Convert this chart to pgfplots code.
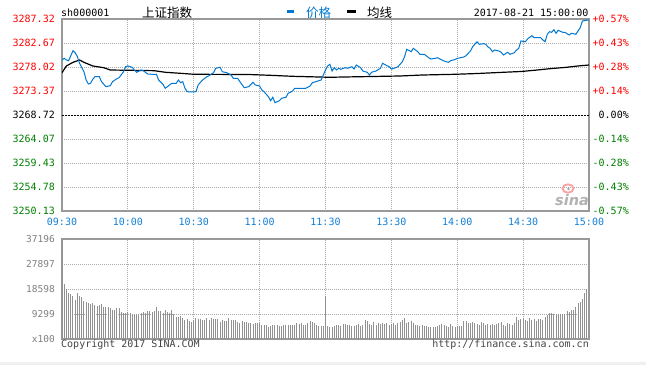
\documentclass[border=0pt]{standalone}
\usepackage{fontspec}
\usepackage{pgfplots}
\pgfplotsset{compat=1.18}
\usepackage{pgfplotstable}
\newfontfamily\mono{DejaVu Sans Mono}
\newfontfamily\cjk{Noto Sans CJK SC}
\newfontfamily\sinafont{DejaVu Sans}
\definecolor{pblue}{RGB}{0,120,210}
\definecolor{tblue}{RGB}{20,128,215}
\definecolor{sred}{RGB}{255,0,0}
\definecolor{sgreen}{RGB}{0,128,0}
\definecolor{gridgray}{RGB}{170,170,170}
\definecolor{bordergray}{RGB}{153,153,153}
\definecolor{volgray}{RGB}{145,145,145}
\definecolor{vlabgray}{RGB}{128,128,128}
\definecolor{stripgray}{RGB}{240,240,240}
\definecolor{copygray}{RGB}{68,68,68}
\definecolor{eyered}{RGB}{250,160,160}

\pgfplotstableread{
x y
0 3279.38
1 3279.71
2 3279.38
3 3279.24
5 3281.18
6 3280.79
7 3280.02
8 3278.74
10 3277.11
11 3275.50
12 3274.73
13 3274.87
14 3275.64
15 3276.14
17 3276.14
18 3275.18
20 3274.21
22 3274.40
23 3275.18
25 3275.76
26 3275.95
28 3277.11
29 3278.08
30 3278.22
32 3277.96
33 3277.44
34 3277.00
36 3277.44
37 3277.31
39 3276.67
41 3276.61
43 3276.61
44 3275.50
46 3274.67
47 3273.90
48 3274.21
50 3274.87
52 3274.87
53 3275.50
54 3274.98
55 3275.18
56 3273.90
57 3273.24
59 3273.18
61 3273.24
62 3274.54
64 3275.50
66 3276.14
67 3276.34
69 3276.92
70 3277.77
72 3277.96
73 3277.11
75 3276.92
77 3276.47
78 3275.83
80 3275.83
81 3275.18
83 3274.01
85 3274.21
87 3275.06
88 3274.54
90 3274.34
91 3273.57
92 3273.24
94 3272.27
95 3271.49
96 3272.15
97 3271.11
99 3271.49
100 3271.96
102 3272.15
103 3272.93
105 3273.37
106 3273.90
111 3273.90
113 3274.34
114 3274.98
117 3275.37
118 3275.50
119 3276.47
120 3277.44
121 3278.22
122 3278.55
123 3277.25
124 3277.89
125 3277.44
126 3277.77
127 3277.58
129 3277.89
130 3277.77
132 3278.08
133 3277.63
134 3278.41
136 3277.89
137 3277.25
139 3277.00
140 3276.47
141 3277.00
143 3277.25
145 3277.77
146 3278.74
148 3278.27
149 3278.08
150 3277.63
152 3277.89
153 3278.08
155 3279.05
156 3280.02
157 3281.45
159 3280.99
160 3281.64
162 3280.99
163 3280.48
165 3280.48
167 3279.82
168 3279.57
170 3279.71
171 3279.82
173 3279.38
174 3279.18
176 3278.93
177 3279.24
179 3279.48
180 3279.69
183 3279.96
184 3280.21
186 3281.12
187 3281.95
189 3282.92
190 3282.42
192 3282.54
193 3282.42
194 3281.90
195 3281.64
196 3280.99
197 3281.32
199 3281.12
200 3280.87
201 3280.35
203 3280.87
204 3280.48
206 3280.79
207 3281.32
208 3281.64
209 3283.06
211 3282.92
212 3283.45
214 3284.09
215 3283.70
218 3283.70
219 3283.25
220 3282.92
221 3284.36
222 3284.86
223 3284.74
224 3285.25
225 3284.55
226 3285.13
228 3284.74
229 3284.74
231 3284.22
232 3284.55
234 3284.36
235 3285.00
236 3285.63
237 3286.93
239 3287.10
240 3287.10
}\pricetab

\pgfplotstableread{
x y
0 3276.92
2 3278.22
5 3278.93
8 3279.38
10 3278.93
14 3278.22
19 3277.89
22 3277.44
42 3277.31
47 3277.00
54 3276.80
60 3276.61
85 3276.57
95 3276.41
105 3276.22
122 3276.03
129 3276.09
154 3276.28
164 3276.47
179 3276.61
189 3276.76
199 3276.96
209 3277.15
215 3277.38
223 3277.73
229 3277.93
235 3278.22
240 3278.41
}\avgtab

\pgfplotstableread{
v
37196
20460
18490
17230
16740
16000
14500
17230
16000
15500
14250
13880
13500
13020
13500
12650
12280
12650
13020
12030
11780
12030
11410
10790
10900
11410
11410
10160
9790
9540
10160
9540
8930
8930
9290
8930
9540
10160
9790
10530
10530
10160
10530
12030
10530
10530
9790
10790
10160
9790
10790
9290
8300
8300
8550
7690
7070
7320
6820
6440
6820
7940
7320
7320
7070
7070
7690
7070
7690
7320
7320
7320
6440
7070
6820
6820
7690
7070
7070
7070
6440
6070
6820
6440
6440
6070
5830
5580
6070
6070
6070
5210
5210
5210
4580
4830
5210
5210
5210
4830
4830
5210
5210
5210
5210
5210
5210
6070
5580
6070
5210
5210
5830
6820
6440
5830
5210
4830
4830
4840
16000
4840
4340
4580
4840
5210
5210
4840
5580
5580
5210
5210
4840
4840
5210
5580
4840
5210
7070
6820
5580
5210
6440
5210
5830
5580
6070
5580
5830
5210
5580
6070
5210
6070
6440
7070
7690
6070
6440
6820
5830
5210
5210
4840
5210
4840
4840
4580
4580
4340
4580
4840
5210
5580
5210
4840
4580
5580
4840
4580
4840
4840
4840
6820
6820
6070
6070
6320
6070
5580
5210
6440
5830
5210
5580
5210
5580
5210
5580
6070
6440
5210
4840
5830
5580
5210
5830
8300
7070
7320
7690
7070
6820
7690
7070
7320
6820
7320
7320
7070
8300
8930
9540
9790
9290
9290
9290
9290
9290
9290
10530
10160
10790
10790
11780
13270
13880
14760
17230
18490
19710
}\voltab

\begin{document}
\begin{tikzpicture}[x=1pt,y=1pt]
\path[use as bounding box] (0,0) rectangle (646,365);
\fill[white] (0,0) rectangle (646,365);
\fill[stripgray] (0,0) rectangle (646,3.3);

% ---------- main price axis (left labels)
\begin{axis}[
  at={(62pt,154pt)}, anchor=south west, scale only axis,
  width=527pt, height=192pt,
  xmin=0, xmax=240, ymin=3250.13, ymax=3287.32,
  axis line style={draw=bordergray, line width=1.2pt},
  xtick={0,30,...,240},
  xticklabels={09:30,10:00,10:30,11:00,11:30,13:30,14:00,14:30,15:00},
  ytick={3250.13,3254.78,3259.43,3264.07,3273.37,3278.02,3282.67,3287.32},
  yticklabels={{\textcolor{sgreen}{3250.13}},{\textcolor{sgreen}{3254.78}},{\textcolor{sgreen}{3259.43}},{\textcolor{sgreen}{3264.07}},{\textcolor{sred}{3273.37}},{\textcolor{sred}{3278.02}},{\textcolor{sred}{3282.67}},{\textcolor{sred}{3287.32}}},
  extra y ticks={3268.72},
  extra y tick labels={{\textcolor{black}{3268.72}}},
  extra y tick style={grid=none},
  grid=major,
  major grid style={draw=gridgray, line width=0.8pt, dash pattern=on 1pt off 1pt},
  tick style={draw=none},
  xticklabel style={font=\mono\fontsize{10}{12}\selectfont, text=tblue, inner sep=0pt, anchor=north, yshift=-7pt},
  yticklabel style={font=\mono\fontsize{10}{12}\selectfont, inner sep=0pt, anchor=east, xshift=-7pt},
]
\addplot[black, line width=0.8pt, dash pattern=on 2pt off 1pt] coordinates {(0,3268.72) (240,3268.72)};
\addplot[black, line width=1.2pt] table[x=x,y=y] \avgtab;
\addplot[pblue, line width=1pt] table[x=x,y=y] \pricetab;
\end{axis}

% ---------- right percentage labels
\begin{axis}[
  at={(62pt,154pt)}, anchor=south west, scale only axis,
  width=527pt, height=192pt,
  xmin=0, xmax=240, ymin=3250.13, ymax=3287.32,
  axis line style={draw=none},
  xtick=\empty,
  yticklabel pos=right,
  ytick={3250.13,3254.78,3259.43,3264.07,3268.72,3273.37,3278.02,3282.67,3287.32},
  yticklabels={{\textcolor{sgreen}{-0.57\%}},{\textcolor{sgreen}{-0.43\%}},{\textcolor{sgreen}{-0.28\%}},{\textcolor{sgreen}{-0.14\%}},{\textcolor{black}{0.00\%}},{\textcolor{sred}{+0.14\%}},{\textcolor{sred}{+0.28\%}},{\textcolor{sred}{+0.43\%}},{\textcolor{sred}{+0.57\%}}},
  tick style={draw=none},
  yticklabel style={font=\mono\fontsize{10}{12}\selectfont, inner sep=0pt, anchor=east, xshift=40pt},
]
\end{axis}

% ---------- volume axis
\begin{axis}[
  at={(62pt,26pt)}, anchor=south west, scale only axis,
  width=527pt, height=100pt,
  xmin=0, xmax=240, ymin=0, ymax=37196,
  axis line style={draw=bordergray, line width=1.2pt},
  xtick={0,30,...,240}, xticklabels={},
  ytick={0,9299,18598,27897,37196},
  yticklabels={x100,9299,18598,27897,37196},
  grid=major,
  major grid style={draw=gridgray, line width=0.8pt, dash pattern=on 1pt off 1pt},
  tick style={draw=none},
  yticklabel style={font=\mono\fontsize{9.5}{11}\selectfont, text=vlabgray, inner sep=0pt, anchor=east, xshift=-7pt},
  scaled y ticks=false,
]
\addplot[ycomb, draw=volgray, line width=1pt] table[x expr=\coordindex, y index=0] \voltab;
\end{axis}

% ---------- header texts
\node[anchor=west, inner sep=0pt, font=\mono\fontsize{10}{12}\selectfont] at (61,352.5) {sh000001};
\node[anchor=west, inner sep=0pt, font=\cjk\fontsize{12.5}{14}\selectfont] at (142,352.7) {上证指数};
\fill[pblue] (287,351.5) rectangle (294,354.5);
\node[anchor=west, inner sep=0pt, font=\cjk\fontsize{12.5}{14}\selectfont, text=pblue] at (306,352.7) {价格};
\fill[black] (347,351.5) rectangle (356,354.5);
\node[anchor=west, inner sep=0pt, font=\cjk\fontsize{12.5}{14}\selectfont] at (367,352.7) {均线};
\node[anchor=east, inner sep=0pt, font=\mono\fontsize{10}{12}\selectfont] at (588.5,352.5) {2017-08-21 15:00:00};

% ---------- footer texts
\node[anchor=west, inner sep=0pt, font=\mono\fontsize{10}{12}\selectfont, text=copygray] at (61,20.7) {Copyright 2017 SINA.COM};
\node[anchor=east, inner sep=0pt, font=\mono\fontsize{10}{12}\selectfont, text=copygray] at (589,20.7) {http://finance.sina.com.cn};

% ---------- sina watermark
\draw[eyered, line width=1.8pt] (568,176.5) ellipse (5.5 and 4.2);
\fill[black!35] (568.5,176) circle (1.4);
\node[inner sep=0pt, font=\sinafont\bfseries\itshape\fontsize{14.5}{16}\selectfont, text=black!30] at (572,165) {sina};
\end{tikzpicture}
\end{document}
